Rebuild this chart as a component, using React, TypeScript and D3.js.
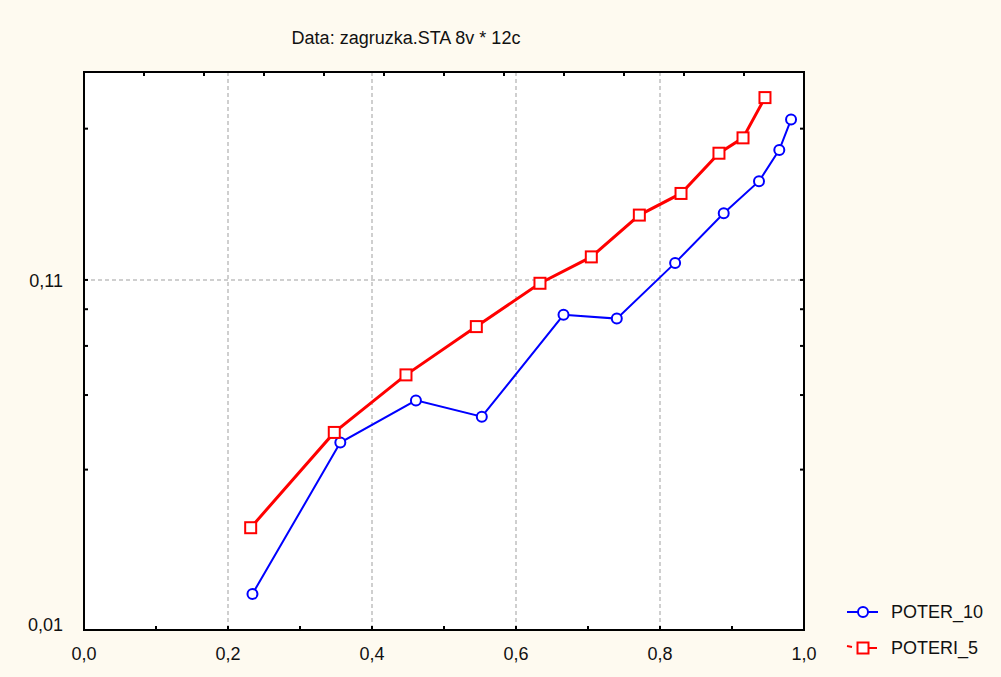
import React, { useEffect, useRef } from 'react';
import * as d3 from 'd3';

// data
const poter10X = [0.234, 0.356, 0.461, 0.5525, 0.666, 0.740, 0.821, 0.8885, 0.9375, 0.9657, 0.982];
const poter10Y = [0.0128, 0.0361, 0.0482, 0.0431, 0.0866, 0.0844, 0.1236, 0.1737, 0.2163, 0.268, 0.330];
const poteri5X = [0.2315, 0.3476, 0.4472, 0.5449, 0.6333, 0.7046, 0.7713, 0.8292, 0.8819, 0.9153, 0.9458];
const poteri5Y = [0.02015, 0.0387, 0.0574, 0.0799, 0.1075, 0.1288, 0.1715, 0.1989, 0.262, 0.2911, 0.3835];

const xLabelTicks = [0, 0.2, 0.4, 0.6, 0.8, 1.0];
const xGridTicks = [0.2, 0.4, 0.6, 0.8];
const xMinorTicks = [0.1, 0.3, 0.5, 0.7, 0.9];
const yLabelTicks = [0.01, 0.11];
const yMinorTicks = [0.03, 0.05, 0.07, 0.09, 0.31];

const W = 1001, H = 677;

function Chart() {
    const ref = useRef<SVGSVGElement>(null);

    useEffect(() => {
        const svg = d3.select(ref.current);
        svg.selectAll('*').remove();

        const left = 84, right = 804, top = 72, bottom = 630;
        const x = d3.scaleLinear().domain([0, 1]).range([left, right]);
        const y = d3.scaleLog().domain([0.01, 0.457]).range([bottom, top]);
        const font = "'Liberation Sans', Arial, sans-serif";
        const fs = 18;

        svg.append('rect').attr('width', W).attr('height', H).attr('fill', '#fefaf0');
        svg.append('rect')
            .attr('x', left).attr('y', top)
            .attr('width', right - left).attr('height', bottom - top)
            .attr('fill', '#ffffff');

        // grid
        svg.selectAll('.vgrid').data(xGridTicks).enter().append('line')
            .attr('x1', d => x(d)).attr('x2', d => x(d))
            .attr('y1', top).attr('y2', bottom)
            .attr('stroke', '#c0c0c0').attr('stroke-width', 1.5).attr('stroke-dasharray', '4,3');
        svg.append('line')
            .attr('x1', left).attr('x2', right)
            .attr('y1', y(0.11)).attr('y2', y(0.11))
            .attr('stroke', '#c0c0c0').attr('stroke-width', 1.5).attr('stroke-dasharray', '4,3');

        // ticks (inward)
        const tk = svg.append('g').attr('stroke', '#000').attr('stroke-width', 2);
        xMinorTicks.concat(xGridTicks).forEach(v => {
            tk.append('line').attr('x1', x(v)).attr('x2', x(v)).attr('y1', bottom).attr('y2', bottom - 4);
        });
        d3.range(1, 12).forEach(k => {
            tk.append('line').attr('x1', x(k / 12)).attr('x2', x(k / 12)).attr('y1', top).attr('y2', top + 4);
        });
        yMinorTicks.concat([0.11]).forEach(v => {
            tk.append('line').attr('x1', left).attr('x2', left + 4).attr('y1', y(v)).attr('y2', y(v));
            tk.append('line').attr('x1', right).attr('x2', right - 4).attr('y1', y(v)).attr('y2', y(v));
        });

        // frame
        svg.append('rect')
            .attr('x', left).attr('y', top)
            .attr('width', right - left).attr('height', bottom - top)
            .attr('fill', 'none').attr('stroke', '#000').attr('stroke-width', 2);

        // labels
        svg.selectAll('.xl').data(xLabelTicks).enter().append('text')
            .attr('x', d => x(d)).attr('y', 660)
            .attr('text-anchor', 'middle')
            .attr('font-family', font).attr('font-size', fs).attr('fill', '#111')
            .text(d => d3.format('.1f')(d).replace('.', ','));
        svg.selectAll('.yl').data(yLabelTicks).enter().append('text')
            .attr('x', 63).attr('y', d => Math.min(y(d) + 7, 631))
            .attr('text-anchor', 'end')
            .attr('font-family', font).attr('font-size', fs).attr('fill', '#111')
            .text(d => d3.format('.2f')(d).replace('.', ','));

        svg.append('text')
            .attr('x', 406).attr('y', 44)
            .attr('text-anchor', 'middle')
            .attr('font-family', font).attr('font-size', fs).attr('fill', '#111')
            .text('Data: zagruzka.STA 8v * 12c');

        const line = d3.line<[number, number]>().x(d => x(d[0])).y(d => y(d[1]));
        const blue = poter10X.map((v, i) => [v, poter10Y[i]] as [number, number]);
        const red = poteri5X.map((v, i) => [v, poteri5Y[i]] as [number, number]);

        svg.append('path').datum(blue).attr('d', line)
            .attr('fill', 'none').attr('stroke', '#0000ff').attr('stroke-width', 2);
        svg.append('path').datum(red).attr('d', line)
            .attr('fill', 'none').attr('stroke', '#ff0000').attr('stroke-width', 3);

        svg.selectAll('.bc').data(blue).enter().append('circle')
            .attr('cx', d => x(d[0])).attr('cy', d => y(d[1])).attr('r', 5)
            .attr('fill', '#fff').attr('stroke', '#0000ff').attr('stroke-width', 2);
        svg.selectAll('.rs').data(red).enter().append('rect')
            .attr('x', d => x(d[0]) - 5.5).attr('y', d => y(d[1]) - 5.5)
            .attr('width', 11).attr('height', 11)
            .attr('fill', '#fff').attr('stroke', '#ff0000').attr('stroke-width', 2);

        // legend
        const lg = svg.append('g');
        lg.append('line').attr('x1', 847).attr('x2', 878).attr('y1', 612).attr('y2', 612)
            .attr('stroke', '#0000ff').attr('stroke-width', 2);
        lg.append('circle').attr('cx', 863).attr('cy', 612).attr('r', 5)
            .attr('fill', '#fff').attr('stroke', '#0000ff').attr('stroke-width', 2);
        lg.append('text').attr('x', 891).attr('y', 618)
            .attr('font-family', font).attr('font-size', fs).attr('fill', '#111').text('POTER_10');
        lg.append('line').attr('x1', 847).attr('x2', 852).attr('y1', 646).attr('y2', 647)
            .attr('stroke', '#ff0000').attr('stroke-width', 2);
        lg.append('line').attr('x1', 868).attr('x2', 877).attr('y1', 648).attr('y2', 648)
            .attr('stroke', '#ff0000').attr('stroke-width', 2);
        lg.append('rect').attr('x', 857.5).attr('y', 642.5).attr('width', 11).attr('height', 11)
            .attr('fill', '#fff').attr('stroke', '#ff0000').attr('stroke-width', 2);
        lg.append('text').attr('x', 891).attr('y', 654)
            .attr('font-family', font).attr('font-size', fs).attr('fill', '#111').text('POTERI_5');
    }, []);

    return <svg ref={ref} width={W} height={H} style={{ position: 'absolute', left: 0, top: 0 }} />;
}

export default function App() {
    return <Chart />;
}
